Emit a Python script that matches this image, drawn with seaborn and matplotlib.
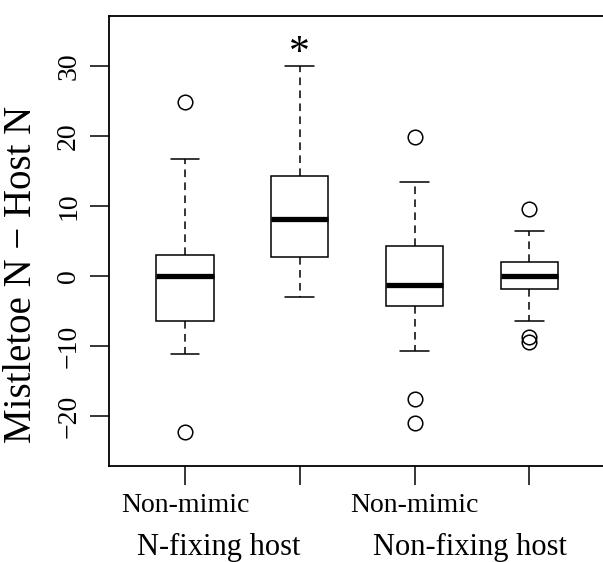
import matplotlib
matplotlib.use("Agg")
import matplotlib.pyplot as plt
import matplotlib.transforms as mtransforms
import pandas as pd
import seaborn as sns

# Groups: host type x mimicry
groups = ["N-fixing non-mimic", "N-fixing mimic", "Non-fixing non-mimic", "Non-fixing mimic"]
tick_labels = ["Non-mimic", "", "Non-mimic", ""]
host_labels = ["N-fixing host", "Non-fixing host"]

# Box summaries (Mistletoe N - Host N)
whisker_low = [-11.1, -3.05, -10.7, -6.38]
quart_low = [-6.4, 2.76, -4.35, -1.9]
medians = [0.0, 8.2, -1.3, 0.0]
quart_high = [3.0, 14.3, 4.35, 1.95]
whisker_high = [16.7, 30.0, 13.5, 6.43]
outliers = [[24.8, -22.3], [], [19.9, -17.5, -21.0], [9.57, -8.76, -9.38]]


def expand(lo, q1, med, q3, hi, extra):
    """13-value sample whose percentiles/whiskers/fliers reproduce the summary."""
    low = sorted(v for v in extra if v < lo)
    high = sorted(v for v in extra if v > hi)
    return (low + [lo] + [q1] * (4 - len(low)) + [med] * 3
            + [q3] * (4 - len(high)) + [hi] + high)


rows = []
for g, lo, a, m, b, hi, ex in zip(groups, whisker_low, quart_low, medians,
                                  quart_high, whisker_high, outliers):
    for v in expand(lo, a, m, b, hi, ex):
        rows.append({"group": g, "diff": v})
df = pd.DataFrame(rows)

sns.set_style("white")
plt.rcParams["font.family"] = ["Liberation Serif", "DejaVu Serif"]
plt.rcParams["axes.unicode_minus"] = True
plt.rcParams["text.color"] = "black"
plt.rcParams["xtick.color"] = "black"
plt.rcParams["ytick.color"] = "black"

fig = plt.figure(figsize=(6.03, 5.62), dpi=100)
ax = fig.add_axes([109 / 603, 1 - 465.7 / 562, (605 - 109) / 603, (465.7 - 15.7) / 562])

sns.boxplot(
    data=df, x="group", y="diff", order=groups, ax=ax,
    width=0.5, color="white", linecolor="black", linewidth=1.1, whis=1.5,
    medianprops=dict(linewidth=3.8, color="black", solid_capstyle="butt"),
    whiskerprops=dict(linestyle=(0, (5, 3.5)), linewidth=1.1, color="black"),
    capprops=dict(linewidth=1.1, color="black"),
    flierprops=dict(marker="o", markersize=10.5, markerfacecolor="none",
                    markeredgecolor="black", markeredgewidth=1.1),
)

ax.set_xlim(-0.663, 3.66)
ax.set_ylim(-27.1, 37.2)
ax.set_yticks([-20, -10, 0, 10, 20, 30])
ax.set_yticklabels(["\u221220", "\u221210", "0", "10", "20", "30"],
                   rotation=90, va="center", ha="right", fontsize=20)
ax.set_xticks(range(len(groups)))
ax.set_xticklabels(tick_labels, fontsize=20)
ax.tick_params(axis="both", direction="out", length=14, width=1.1,
               color="black", labelcolor="black", pad=6,
               bottom=True, left=True, top=False, right=False)
ax.set_xlabel("")
ax.set_ylabel("")
for side in ["left", "top", "bottom", "right"]:
    ax.spines[side].set_visible(True)
    ax.spines[side].set_color("black")
    ax.spines[side].set_linewidth(1.3)

# Significance mark above the N-fixing mimic box
ax.text(1, whisker_high[1] + 0.3, "*", ha="center", va="baseline",
        fontsize=30, color="black")

# Host-type labels under the tick labels
trans = mtransforms.blended_transform_factory(ax.transData, fig.transFigure)
ax.text(0.29, 0.0125, host_labels[0], transform=trans, ha="center",
        va="baseline", fontsize=22, color="black")
ax.text(2.48, 0.0125, host_labels[1], transform=trans, ha="center",
        va="baseline", fontsize=22, color="black")

fig.text(22 / 603, 0.511, "Mistletoe N \u2212 Host N", rotation=90,
         ha="center", va="center", fontsize=28, color="black")

fig.savefig("out.png", dpi=100)
